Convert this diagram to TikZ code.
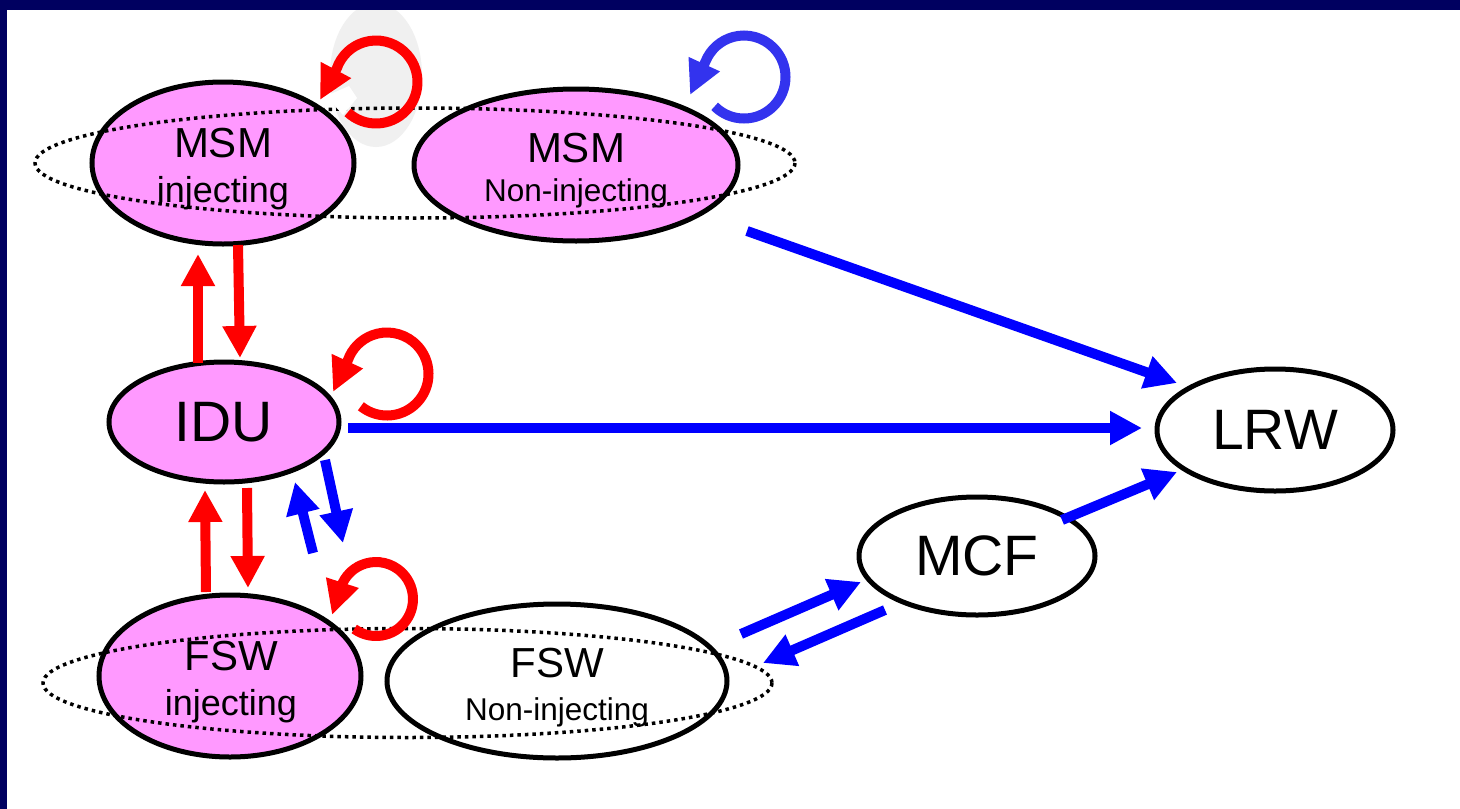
\documentclass[tikz,border=0pt]{standalone}
\usepackage{fontspec}
\setmainfont{Liberation Sans}
\usetikzlibrary{arrows.meta,shapes.geometric,calc}
\definecolor{navy}{RGB}{0,0,96}
\definecolor{pinkfill}{RGB}{255,153,255}
\definecolor{loopblue}{RGB}{51,51,238}
\definecolor{greyhl}{RGB}{240,240,240}
\begin{document}
\begin{tikzpicture}[x=1pt,y=-1pt,
  stnode/.style={ellipse, draw=black, line width=5pt, inner sep=0pt},
  pinkstate/.style={stnode, fill=pinkfill},
  whitestate/.style={stnode, fill=white},
  redarrow/.style={draw=red, line width=10pt, -{Triangle[length=32pt,width=32pt]}},
  bluearrow/.style={draw=blue, line width=10pt, -{Triangle[length=32pt,width=32pt]}},
  redloop/.style={draw=red, line width=10pt, -{Triangle[length=34pt,width=32pt]}},
  blueloop/.style={draw=loopblue, line width=10pt, -{Triangle[length=34pt,width=32pt]}},
  grouping/.style={draw=black, line width=3.5pt, dash pattern=on 3.5pt off 4pt},
  lbl/.style={anchor=base, inner sep=0pt},
  bigtxt/.style={font=\fontsize{57}{57}\selectfont},
  midtxt/.style={lbl, font=\fontsize{42}{42}\selectfont},
  injtxt/.style={lbl, font=\fontsize{36}{36}\selectfont},
  nontxt/.style={lbl, font=\fontsize{31.5}{31.5}\selectfont}
]
\useasboundingbox (0,0) rectangle (1460,809);
\fill[white] (0,0) rectangle (1460,809);
% grey highlight behind the MSM loop
\fill[greyhl] (376,75) ellipse[x radius=46, y radius=72];

% state nodes
\node[pinkstate, minimum width=262pt, minimum height=162pt] (msmi) at (223,163) {};
\node[pinkstate, minimum width=324pt, minimum height=152pt] (msmn) at (576,165) {};
\node[pinkstate, minimum width=230pt, minimum height=120pt, bigtxt] (idu) at (224,422) {IDU};
\node[pinkstate, minimum width=262pt, minimum height=162pt] (fswi) at (230,676) {};
\node[whitestate, minimum width=340pt, minimum height=154pt] (fswn) at (557,681) {};
\node[whitestate, minimum width=236pt, minimum height=118pt, bigtxt] (mcf) at (977,556) {MCF};
\node[whitestate, minimum width=236pt, minimum height=122pt, bigtxt] (lrw) at (1275,430) {LRW};

% two-line labels
\node[midtxt] (msmi-a) at (223,157) {MSM};
\node[injtxt] (msmi-b) at (223,202) {injecting};
\node[midtxt] (msmn-a) at (576,162) {MSM};
\node[nontxt] (msmn-b) at (576,201) {Non-injecting};
\node[midtxt] (fswi-a) at (231,670) {FSW};
\node[injtxt] (fswi-b) at (231,715) {injecting};
\node[midtxt] (fswn-a) at (557,677) {FSW};
\node[nontxt] (fswn-b) at (557,720) {Non-injecting};

% dotted group outlines
\draw[grouping] (415,163) ellipse[x radius=380, y radius=55];
\draw[grouping] (407.5,683) ellipse[x radius=364.5, y radius=54.5];

% red vertical connectors
\draw[redarrow] ($(idu)+(-26,-59)$) -- ($(msmi)+(-25,91)$);
\draw[redarrow] ($(msmi)+(15,82)$) -- ($(idu)+(16,-64)$);
\draw[redarrow] ($(fswi)+(-24,-84)$) -- ($(idu)+(-19,68)$);
\draw[redarrow] ($(idu)+(23,66)$) -- ($(fswi)+(18,-88)$);

% blue connectors
\draw[bluearrow] ($(idu)+(101,38)$) -- ($(fswi)+(113,-133)$);
\draw[bluearrow] ($(fswi)+(83,-123)$) -- ($(idu)+(71,60)$);
\draw[bluearrow] ($(idu)+(124,6)$) -- ($(lrw)+(-133,-2)$);
\draw[bluearrow] ($(msmn)+(171,66)$) -- ($(lrw)+(-98,-47)$);
\draw[bluearrow] ($(mcf)+(85,-36)$) -- ($(lrw)+(-98,42)$);
\draw[bluearrow] ($(fswn)+(184,-47)$) -- ($(mcf)+(-116,26)$);
\draw[bluearrow] ($(mcf)+(-92,54)$) -- ($(fswn)+(206,-18)$);

% self loops
\coordinate (lpm) at ($(msmi)+(153,-81)$);
\fill[white] ($(lpm)+(-50,14)$) -- ($(lpm)+(-27,4)$) -- ($(lpm)+(-19,16)$) -- ($(lpm)+(-33,33)$) -- cycle;
\draw[redloop] ($(lpm)+(133:41.5)$) arc[start angle=133, end angle=-161, radius=41.5] -- ($(lpm)+(-56,18)$);

\coordinate (lpi) at ($(idu)+(163,-48)$);
\draw[redloop] ($(lpi)+(129:41.5)$) arc[start angle=129, end angle=-160, radius=41.5] -- ($(lpi)+(-54,18)$);

\coordinate (lpf) at ($(fswi)+(146,-77)$);
\draw[redloop] ($(lpf)+(126:37)$) arc[start angle=126, end angle=-159, radius=37] -- ($(lpf)+(-44,16)$);

\coordinate (lpb) at ($(msmn)+(168,-88)$);
\draw[blueloop] ($(lpb)+(135:41.5)$) arc[start angle=135, end angle=-158, radius=41.5] -- ($(lpb)+(-54,18)$);

% slide frame
\fill[navy] (0,0) rectangle (1460,10);
\fill[navy] (0,0) rectangle (7,809);
\end{tikzpicture}
\end{document}
